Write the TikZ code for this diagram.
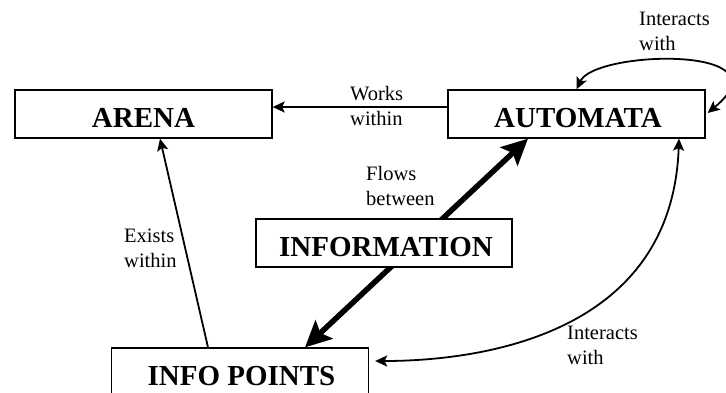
\documentclass[tikz,border=0pt]{standalone}
\usepackage{fontspec}
\setmainfont{Liberation Serif}
\usetikzlibrary{arrows.meta}
\begin{document}
\begin{tikzpicture}[x=1pt,y=-1pt,
  box/.style={draw,line width=1.3pt,fill=white,minimum width=257pt,minimum height=48pt,
    inner sep=0pt,text height=26pt,text depth=0pt,font=\fontsize{29}{32}\selectfont\bfseries},
  lbl/.style={inner sep=0pt,anchor=north west,align=left,font=\fontsize{20.5}{25}\selectfont},
  thin/.style={line width=1.8pt,-{Stealth[length=12pt,width=11pt,inset=2.5pt]}},
  thinboth/.style={line width=1.8pt,{Stealth[length=12pt,width=11pt,inset=2.5pt]}-{Stealth[length=12pt,width=11pt,inset=2.5pt]}},
  thick/.style={line width=5.5pt,{Stealth[length=26pt,width=25pt,inset=5pt]}-{Stealth[length=26pt,width=25pt,inset=5pt]}}]
\useasboundingbox (0,0) rectangle (726,392);
\clip (0,0) rectangle (726,392);

% boxes
\node[box] (arena) at (143.5,114) {ARENA};
\node[box] (automata) at (576.5,114) {\hspace{3pt}AUTOMATA};
\node[box] (infopoints) at (240,372) {\hspace{3pt}INFO POINTS};

% connectors
\draw[thin] ([yshift=7pt]automata.west) -- ([yshift=7pt]arena.east);
\draw[thin] ([xshift=-32pt]infopoints.north) -- ([xshift=16.5pt]arena.south);
\draw[thick] ([xshift=65pt]infopoints.north) -- ([xshift=-48.5pt]automata.south);
\draw[thinboth] ([xshift=102.5pt]automata.south) .. controls (672,340) and (470,361) .. ([xshift=6pt,yshift=11pt]infopoints.east);
\draw[thinboth] (automata.north) .. controls (595,50) and (790,45) .. ([xshift=2pt,yshift=1pt]automata.east);

% middle box drawn over the thick arrow
\node[box,minimum width=256pt] (information) at (384,243) {\hspace{4pt}INFORMATION};

% labels
\node[lbl] (works) at (350,86) {Works\\within};
\node[lbl] (flows) at (366,166) {Flows\\between};
\node[lbl] (exists) at (124,229) {Exists\\within};
\node[lbl] (interlow) at (567,326) {Interacts\\with};
\node[lbl] (intertop) at (639,12) {Interacts\\with};
\end{tikzpicture}
\end{document}
